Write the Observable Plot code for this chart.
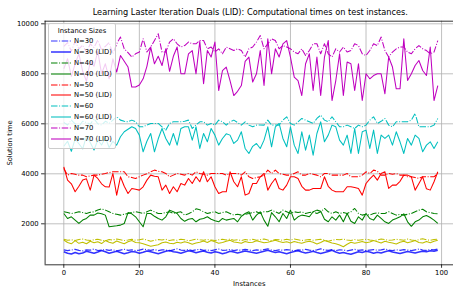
<!DOCTYPE html>
<html><head><meta charset="utf-8">
<script src="https://cdn.jsdelivr.net/npm/d3@7"></script>
<script src="https://cdn.jsdelivr.net/npm/@observablehq/plot@0.6"></script>
<style>
html,body{margin:0;padding:0;background:#fff;}
body{font-family:"DejaVu Sans",sans-serif;}
#wrap{position:relative;width:453px;height:287px;overflow:hidden;background:#fff;}
#title{position:absolute;left:44.6px;width:411.4px;top:7px;line-height:10px;text-align:center;font-size:8.2px;color:#000;white-space:nowrap;}
#legend{position:absolute;left:48px;top:23px;width:68px;height:126px;box-sizing:border-box;border:0.8px solid #cccccc;border-radius:2px;background:rgba(255,255,255,0.8);font-size:6.8px;color:#000;}
#legend .lt{position:absolute;left:0;width:100%;top:3px;text-align:center;line-height:8px;}
#legend .row{position:absolute;left:0;height:8px;line-height:8px;}
#legend svg{position:absolute;left:2px;top:0;}
#legend .lab{position:absolute;left:25px;top:0;white-space:nowrap;}
</style>
</head><body>
<div id="wrap">
<div id="title">Learning Laster Iteration Duals (LID): Computational times on test instances.</div>
</div>
<script>
// ---- data ----
const instances = d3.range(0, 100);
const xTicks = [0, 20, 40, 60, 80, 100];
const yTicks = [2000, 4000, 6000, 8000, 10000];

const n20 = [1380,1340,1360,1330,1370,1390,1350,1330,1360,1380,
 1340,1320,1370,1350,1390,1360,1330,1350,1380,1340,
 1360,1390,1350,1300,1340,1370,1350,1380,1330,1360,
 1340,1380,1360,1320,1350,1390,1360,1340,1370,1350,
 1330,1360,1380,1350,1390,1340,1360,1330,1370,1350,
 1380,1340,1360,1390,1350,1330,1370,1360,1340,1380,
 1350,1390,1360,1330,1350,1370,1340,1360,1380,1350,
 1300,1340,1370,1360,1390,1350,1330,1370,1340,1360,
 1380,1350,1330,1360,1390,1370,1340,1350,1380,1360,
 1340,1390,1350,1330,1370,1400,1360,1340,1370,1390];
const n20LID = [1350,1250,1200,1330,1220,1260,1200,1300,1240,1280,
 1210,1330,1260,1220,1310,1250,1200,1280,1330,1250,
 1240,1200,1150,1100,1130,1160,1240,1270,1220,1200,
 1260,1230,1280,1240,1180,1230,1260,1310,1250,1330,
 1280,1220,1250,1300,1340,1270,1250,1220,1290,1250,
 1260,1320,1280,1240,1260,1300,1340,1290,1250,1280,
 1230,1290,1250,1220,1270,1300,1260,1190,1250,1330,
 1280,1230,1200,1150,1080,1180,1260,1220,1250,1290,
 1240,1270,1330,1280,1230,1300,1260,1230,1190,1260,
 1300,1240,1280,1330,1250,1230,1290,1240,1300,1340];
const n30 = [960,930,950,980,940,920,960,950,990,930,
 950,970,940,960,920,950,980,940,960,930,
 950,990,960,940,970,930,960,950,920,960,
 1000,950,940,970,930,960,980,940,950,930,
 960,990,940,950,970,930,960,940,980,950,
 930,960,940,970,1000,950,930,960,940,970,
 950,920,960,940,980,950,930,960,1000,950,
 940,970,930,960,950,920,950,980,940,960,
 930,950,970,940,960,990,950,930,960,940,
 970,950,930,960,990,950,940,970,960,990];
const n30LID = [880,820,790,850,800,830,900,860,820,870,
 930,880,820,860,900,850,800,840,890,870,
 820,860,910,880,840,800,850,900,930,880,
 860,820,870,920,890,840,880,910,860,830,
 880,850,800,840,900,870,830,870,910,880,
 850,820,860,900,940,890,850,880,840,800,
 850,890,920,870,830,860,900,850,810,850,
 890,940,870,820,850,810,780,830,880,850,
 900,870,820,860,830,880,920,870,840,810,
 850,890,860,830,870,900,880,920,900,940];
const n40 = [2480,2450,2413,2440,2480,2450,2413,2460,2480,2550,
 2600,2547,2480,2413,2380,2347,2380,2413,2450,2480,
 2450,2413,2480,2547,2480,2413,2413,2450,2480,2413,
 2450,2480,2347,2400,2480,2600,2560,2480,2413,2450,
 2480,2413,2450,2480,2413,2347,2380,2347,2380,2413,
 2450,2480,2413,2480,2480,2547,2480,2413,2547,2480,
 2413,2480,2450,2480,2413,2450,2480,2413,2480,2613,
 2480,2413,2480,2413,2450,2413,2480,2613,2413,2347,
 2380,2347,2413,2440,2413,2413,2480,2413,2347,2380,
 2347,2380,2413,2480,2547,2580,2480,2450,2413,2400];
const n40LID = [2413,2213,2280,2150,2013,2150,2213,2347,2347,2430,
 2400,2347,1880,1900,1920,1947,2013,2450,2400,2280,
 2080,1880,2413,2413,2300,2213,2147,2280,2547,2480,
 2413,2213,2100,2180,2213,2080,2180,2213,2280,2180,
 2120,2080,2213,2147,2180,2213,2080,2300,2413,2480,
 2147,2347,2480,2147,1900,2450,2280,2080,2413,2213,
 2547,2147,2280,2347,2320,2280,2480,2547,2500,2180,
 2080,2280,2147,2347,2080,2413,2100,2013,2280,2147,
 2413,2213,2147,2347,2213,2080,2013,2150,2213,2280,
 2400,2080,1900,2080,2150,2280,2330,2250,2147,2013];
const n50 = [4210,3947,4013,3980,3947,3947,3880,3920,3947,3947,
 3980,4013,4050,4080,4080,4080,4080,3880,3850,3813,
 3880,3947,4000,4080,4147,4100,4080,4013,3880,3947,
 4013,3980,3947,4013,3947,4080,4013,3980,3947,4013,
 4013,4013,4013,3947,4013,4013,4013,3947,4080,3880,
 3813,3850,3880,3947,4147,4013,4147,4013,3980,3947,
 3947,4013,4080,3947,3947,4013,3980,3947,3880,4013,
 4013,3947,3947,3947,3947,4013,3880,3880,3880,3947,
 4080,4013,4147,4100,3947,3947,4013,3980,4013,3947,
 3947,3880,3880,3850,3813,3880,3880,3880,3880,4013];
const n50LID = [4280,3750,3600,3280,3500,3750,3800,3347,3947,3813,
 3600,3480,3470,4013,3147,3880,3500,3213,3413,3380,
 3347,3480,3747,3947,3900,3880,3347,3547,3213,3480,
 3280,3613,3547,3813,3613,3880,3680,4080,3680,3880,
 3480,3213,3280,3280,4080,3680,3480,3880,3147,3213,
 3613,3613,3880,4013,3347,3613,3813,3413,3347,3547,
 3880,3880,3813,3500,3347,3347,3413,3413,3413,3880,
 3500,3347,3280,3280,3280,3480,3480,3450,3413,3147,
 3613,3800,3947,3747,4013,4080,3413,3547,3547,3700,
 3947,3947,3880,3347,3613,3880,3400,3347,3680,4080];
const n60 = [6050,5950,6150,6000,5900,6100,6050,5980,6200,6000,
 5950,6100,6020,6150,6280,6147,6100,6080,6147,6080,
 5880,5880,5950,6013,6013,6013,5880,5747,6013,6080,
 6080,6080,6100,6147,5813,5950,6080,6080,5947,6013,
 5947,6147,6080,5947,6080,6147,6050,5947,6080,5947,
 5880,5947,5950,5947,6147,5947,5950,5947,6147,6280,
 6013,5947,6080,6213,6147,6080,6013,6213,6347,6147,
 6080,6280,6080,5880,5880,5947,5880,5813,5947,5880,
 5947,6147,6280,6013,6100,6213,5947,5880,6080,6080,
 6080,6080,6147,6413,5880,5880,5880,5880,5947,6213];
const n60LID = [5100,5300,4900,5400,5200,5000,5500,5250,4950,5350,
 5150,5450,5050,5300,5147,5480,5680,5780,5880,5813,
 5547,4880,5300,5613,4880,5400,5813,5413,5147,5613,
 5147,5813,5880,5880,5347,5880,5013,5613,5280,5813,
 5547,5147,5413,5600,5547,5213,5347,5680,5013,4813,
 5100,5213,5013,5347,5880,5080,5880,6013,5413,5080,
 5880,5147,4813,5680,4947,5547,4747,5613,6080,5280,
 5547,5947,5880,5347,5147,5547,4813,5813,4813,5680,
 5747,5013,5747,4813,5547,5413,5547,5147,5680,5280,
 4813,5413,5147,5547,5413,4880,5147,5280,5013,5280];
const n70 = [9100,9250,8900,9300,9000,9150,8850,9200,9050,9350,
 8950,9100,9250,8800,9200,9470,9000,8850,8670,8800,
 8870,9400,8870,9070,9330,9600,8870,8870,9270,9400,
 9200,9070,9130,9270,9200,9200,9330,9330,9000,9070,
 8870,9000,8800,9070,9000,8930,9000,8930,8670,9000,
 9070,9270,9530,9000,9200,9400,9330,9000,9130,9070,
 9000,8870,8800,9000,8730,8930,9200,9200,8800,9200,
 8800,8670,9000,8870,9070,8870,8930,9200,9130,8800,
 8730,8930,9200,9130,9470,8930,8670,8870,9000,9070,
 9070,8870,8800,9000,9130,9000,8930,8800,8870,9330];
const n70LID = [8200,8600,7900,8400,8800,8100,7700,8500,8300,8900,
 8000,8400,7800,8600,8070,8730,8500,8270,7470,7470,
 7550,7800,8300,9070,8400,8700,8330,9000,8100,8700,
 9070,8000,8000,8800,8930,8000,9300,7600,8930,8670,
 9270,7330,8130,8270,7730,7130,7300,7530,8500,8670,
 7670,8000,8930,7530,9400,8000,9000,8670,9200,9330,
 8670,7870,7730,7130,8400,8800,7330,8670,7130,8670,
 9330,6930,7730,8800,7130,8470,8400,7330,8400,6930,
 8000,7800,7930,8000,8000,7200,8670,8270,7400,7400,
 9400,7730,8000,8330,8530,8130,7930,9070,6930,7530];

const seriesNames = ["N=20","N=20 (LID)","N=30","N=30 (LID)","N=40","N=40 (LID)","N=50","N=50 (LID)","N=60","N=60 (LID)","N=70","N=70 (LID)"];
const seriesValues = [n20, n20LID, n30, n30LID, n40, n40LID, n50, n50LID, n60, n60LID, n70, n70LID];
const seriesColors = ["#bfbf00","#bfbf00","#0000ff","#0000ff","#008000","#008000","#ff0000","#ff0000","#00bfbf","#00bfbf","#bf00bf","#bf00bf"];
const inLegend = [false,false,true,true,true,true,true,true,true,true,true,true];

// ---- build ----
const DASH = "6.5,1.6,1,1.6";
const styleOf = (k) => {
  const lid = seriesNames[k].includes("LID");
  const blue = seriesColors[k] === "#0000ff";
  return {
    dash: lid ? null : DASH,
    width: blue ? (lid ? 1.5 : 1.2) : 1.05,
    opacity: blue ? 0.8 : 1
  };
};
const lineMarks = seriesValues.map((vals, k) => {
  const st = styleOf(k);
  const rows = instances.map((i) => ({i, v: vals[i]}));
  return Plot.line(rows, {x: "i", y: "v", stroke: seriesColors[k], strokeWidth: st.width,
    strokeOpacity: st.opacity, strokeDasharray: st.dash, strokeLinejoin: "round", strokeLinecap: "butt"});
});

const X0 = -4.95, X1 = 103.95, Y0 = 360, Y1 = 10104;
const chart = Plot.plot({
  width: 453, height: 287,
  marginLeft: 44.6, marginRight: 0, marginTop: 20.7, marginBottom: 22.7,
  x: {domain: [X0, X1], range: [44.6, 456]},
  y: {domain: [Y0, Y1]},
  style: {fontFamily: "DejaVu Sans", fontSize: "6.8px", background: "transparent", color: "#000", overflow: "visible"},
  marks: [
    Plot.gridX(xTicks, {stroke: "#b0b0b0", strokeOpacity: 1, strokeWidth: 0.8}),
    Plot.gridY(yTicks, {stroke: "#b0b0b0", strokeOpacity: 1, strokeWidth: 0.8}),
    ...lineMarks,
    Plot.ruleX([X0], {stroke: "#000", strokeWidth: 0.8}),
    Plot.ruleY([Y0, Y1], {stroke: "#000", strokeWidth: 0.8}),
    Plot.axisX(xTicks, {tickSize: 3.5, tickPadding: 2, tickFormat: d3.format("d"), label: "Instances", labelAnchor: "center", labelArrow: "none", labelOffset: 21, stroke: "#000", strokeWidth: 0.8, fill: "#000"}),
    Plot.axisY(yTicks, {tickSize: 3.5, tickPadding: 3, tickFormat: d3.format("d"), label: "Solution time", labelAnchor: "center", labelArrow: "none", labelOffset: 38, stroke: "#000", strokeWidth: 0.8, fill: "#000"})
  ]
});
const wrap = document.getElementById("wrap");
chart.style.position = "absolute";
chart.style.left = "0px";
chart.style.top = "0px";
wrap.insertBefore(chart, wrap.firstChild);

// ---- legend ----
const leg = document.createElement("div");
leg.id = "legend";
const lt = document.createElement("div");
lt.className = "lt";
lt.textContent = "Instance Sizes";
leg.appendChild(lt);
let row = 0;
seriesNames.forEach((name, k) => {
  if (!inLegend[k]) return;
  const st = styleOf(k);
  const r = document.createElement("div");
  r.className = "row";
  r.style.top = (13.3 + row * 10.8) + "px";
  const ns = "http://www.w3.org/2000/svg";
  const s = document.createElementNS(ns, "svg");
  s.setAttribute("width", "22"); s.setAttribute("height", "8");
  const l = document.createElementNS(ns, "line");
  l.setAttribute("x1", "0"); l.setAttribute("x2", "20");
  l.setAttribute("y1", "4"); l.setAttribute("y2", "4");
  l.setAttribute("stroke", seriesColors[k]);
  l.setAttribute("stroke-width", st.width);
  l.setAttribute("stroke-opacity", st.opacity);
  if (st.dash) l.setAttribute("stroke-dasharray", st.dash);
  s.appendChild(l);
  r.appendChild(s);
  const t = document.createElement("span");
  t.className = "lab";
  t.textContent = name;
  r.appendChild(t);
  leg.appendChild(r);
  row++;
});
wrap.appendChild(leg);
</script>
</body></html>
